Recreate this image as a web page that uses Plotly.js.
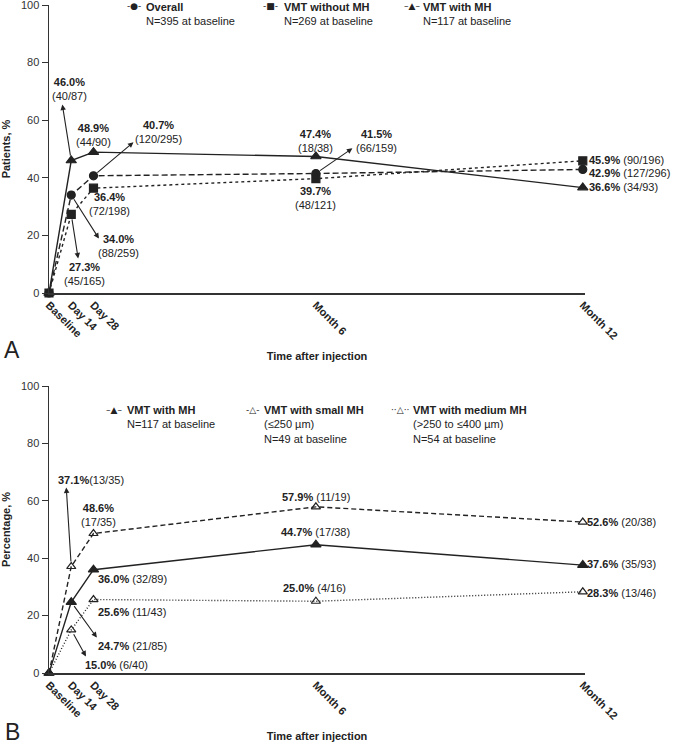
<!DOCTYPE html>
<html><head><meta charset="utf-8">
<script src="https://cdn.plot.ly/plotly-3.0.1.min.js"></script>
<style>html,body{margin:0;padding:0;background:#fff}</style>
</head><body><div id="chart" style="width:673px;height:744px"></div>
<script>
// ---------- DATA ----------
const timePoints = [0, 0.5, 1, 6, 12];           // months after injection
const tickLabels = ['Baseline', 'Day 14', 'Day 28', 'Month 6', 'Month 12'];

// Panel A
const seriesNamesA = ['Overall', 'VMT without MH', 'VMT with MH'];
const baselineNA = ['N=395 at baseline', 'N=269 at baseline', 'N=117 at baseline'];
const overallPct = [0, 34.0, 40.7, 41.5, 42.9];
const overallCounts = ['', '88/259', '120/295', '66/159', '127/296'];
const withoutMHPct = [0, 27.3, 36.4, 39.7, 45.9];
const withoutMHCounts = ['', '45/165', '72/198', '48/121', '90/196'];
const withMHPct = [0, 46.0, 48.9, 47.4, 36.6];
const withMHCounts = ['', '40/87', '44/90', '18/38', '34/93'];

// Panel B
const seriesNamesB = ['VMT with MH', 'VMT with small MH', 'VMT with medium MH'];
const baselineNB = ['N=117 at baseline', '(\u2264250 \u00b5m)<br>N=49 at baseline', '(>250 to \u2264400 \u00b5m)<br>N=54 at baseline'];
const mhBPct = [0, 24.7, 36.0, 44.7, 37.6];
const mhBCounts = ['', '21/85', '32/89', '17/38', '35/93'];
const smallPct = [0, 37.1, 48.6, 57.9, 52.6];
const smallCounts = ['', '13/35', '17/35', '11/19', '20/38'];
const mediumPct = [0, 15.0, 25.6, 25.0, 28.3];
const mediumCounts = ['', '6/40', '11/43', '4/16', '13/46'];

// ---------- GEOMETRY / STYLE ----------
const W = 673, H = 744;
const M = {l: 49, r: 88, t: 0, b: 71};
const PW = W - M.l - M.r, PH = H - M.t - M.b;
const pxX = p => (p - M.l) / PW;
const pxY = p => 1 - (p - M.t) / PH;
const INK = '#222';
const FONT = 'Liberation Sans, Arial, sans-serif';
const NARROW = 'Liberation Sans Narrow,Liberation Sans,Arial,sans-serif';

const pct = v => '<b><span style="font-family:' + NARROW + '">' + v.toFixed(1) + '%</span></b>';

const dataA = [
  {pct: overallPct, cnt: overallCounts, dash: '6px,3px', sym: 'circle', size: 8},
  {pct: withoutMHPct, cnt: withoutMHCounts, dash: '3px,3px', sym: 'square', size: 8},
  {pct: withMHPct, cnt: withMHCounts, dash: 'solid', sym: 'triangle-up', size: 9}
];
const dataB = [
  {pct: mhBPct, cnt: mhBCounts, dash: 'solid', sym: 'triangle-up', size: 9},
  {pct: smallPct, cnt: smallCounts, dash: '5px,3px', sym: 'triangle-up-open', size: 8},
  {pct: mediumPct, cnt: mediumCounts, dash: '1px,2px', sym: 'triangle-up-open', size: 8}
];

const traces = [];
function addTraces(set, names, xa, ya) {
  set.forEach((s, k) => traces.push({
    type: 'scatter', mode: 'lines+markers', x: timePoints, y: s.pct, name: names[k],
    xaxis: xa, yaxis: ya, cliponaxis: false, showlegend: false,
    line: {color: INK, width: 1.4, dash: s.dash},
    marker: {symbol: s.sym, size: s.size, color: INK, line: {color: INK, width: 1.2}}
  }));
}
addTraces(dataA, seriesNamesA, 'x', 'y');
addTraces(dataB, seriesNamesB, 'x2', 'y2');

// label placement (pixel offsets from each point)
const labA = [
  {s: 2, i: 1, dx: -2, dy: -71.5, mode: 'two', arrow: [-9, -56.5]},
  {s: 2, i: 2, dx: 0, dy: -17, mode: 'two'},
  {s: 0, i: 2, dx: 65.5, dy: -44, mode: 'two', arrow: [40.5, -34]},
  {s: 1, i: 2, dx: 16.5, dy: 16.3, mode: 'two'},
  {s: 0, i: 1, dx: 47, dy: 51.4, mode: 'two', arrow: [28, 44]},
  {s: 1, i: 1, dx: 13, dy: 60, mode: 'two', arrow: [7, 44.6]},
  {s: 2, i: 3, dx: 0, dy: -15.5, mode: 'two'},
  {s: 0, i: 3, dx: 61, dy: -32, mode: 'two', arrow: [37, -25.5]},
  {s: 1, i: 3, dx: 0, dy: 19.8, mode: 'two'},
  {s: 1, i: 4, dx: 5, dy: -1.2, mode: 'one', anchor: 'left'},
  {s: 0, i: 4, dx: 5, dy: 3.8, mode: 'one', anchor: 'left'},
  {s: 2, i: 4, dx: 5, dy: -0.6, mode: 'one', anchor: 'left'}
];
const labB = [
  {s: 1, i: 1, dx: 20, dy: -86.5, mode: 'tight', arrow: [-5, -79.5]},
  {s: 1, i: 2, dx: 5, dy: -19, mode: 'two'},
  {s: 0, i: 2, dx: 3.5, dy: 9.3, mode: 'one', anchor: 'left'},
  {s: 2, i: 2, dx: 3.5, dy: 12.5, mode: 'one', anchor: 'left'},
  {s: 0, i: 1, dx: 25.75, dy: 44, mode: 'one', anchor: 'left', arrow: [26, 36]},
  {s: 2, i: 1, dx: 13, dy: 35, mode: 'one', anchor: 'left', arrow: [15, 27]},
  {s: 1, i: 3, dx: 0, dy: -10, mode: 'one'},
  {s: 0, i: 3, dx: 0, dy: -12.7, mode: 'one'},
  {s: 2, i: 3, dx: -1.5, dy: -13.3, mode: 'one'},
  {s: 1, i: 4, dx: 3, dy: 0, mode: 'one', anchor: 'left'},
  {s: 0, i: 4, dx: 3, dy: -1, mode: 'one', anchor: 'left'},
  {s: 2, i: 4, dx: 3, dy: 1, mode: 'one', anchor: 'left'}
];

const annotations = [];
function addLabels(set, labs, xr, yr) {
  labs.forEach(L => {
    const s = set[L.s], xv = timePoints[L.i], yv = s.pct[L.i];
    const sep = L.mode === 'two' ? '<br>' : (L.mode === 'tight' ? '' : ' ');
    annotations.push({
      xref: xr, yref: yr, x: xv, y: yv, showarrow: false,
      text: pct(yv) + sep + '(' + s.cnt[L.i] + ')',
      xshift: L.dx, yshift: -L.dy, xanchor: L.anchor || 'center', yanchor: 'middle',
      font: {family: FONT, size: 11, color: INK}, borderpad: 0
    });
    if (L.arrow) annotations.push({
      xref: xr, yref: yr, x: xv, y: yv, text: '', showarrow: true,
      ax: L.arrow[0], ay: L.arrow[1], arrowside: 'start',
      arrowhead: 2, startarrowhead: 2, arrowsize: 1, startarrowsize: 1,
      arrowwidth: 1.1, arrowcolor: INK, standoff: 5, startstandoff: 0,
      font: {size: 1}, borderpad: 0
    });
  });
}
addLabels(dataA, labA, 'x', 'y');
addLabels(dataB, labB, 'x2', 'y2');

// custom legends
const legA = [{sym: '-\u25cf-', sx: 133.5, tx: 145}, {sym: '-\u25a0-', sx: 270, tx: 283}, {sym: '\u2013\u25b2\u2013', sx: 412.5, tx: 422}];
const legB = [{sym: '\u2013\u25b2\u2013', sx: 113.5, tx: 126}, {sym: '-\u25b3-', sx: 252.5, tx: 263}, {sym: '\u00b7\u00b7\u25b3\u00b7\u00b7', sx: 400, tx: 412}];
function addLegend(items, names, ns, yTop, ySym) {
  items.forEach((it, k) => {
    annotations.push({xref: 'paper', yref: 'paper', x: pxX(it.sx), y: pxY(ySym), text: it.sym,
      showarrow: false, xanchor: 'center', yanchor: 'middle', font: {family: 'DejaVu Sans', size: 9, color: INK}});
    annotations.push({xref: 'paper', yref: 'paper', x: pxX(it.tx), y: pxY(yTop), align: 'left',
      text: '<b>' + names[k] + '</b><br>' + ns[k], showarrow: false, xanchor: 'left', yanchor: 'top',
      font: {family: FONT, size: 11, color: INK}, borderpad: 0});
  });
}
addLegend(legA, seriesNamesA, baselineNA, -0.5, 6);
addLegend(legB, seriesNamesB, baselineNB, 403, 410);

annotations.push({xref: 'paper', yref: 'paper', x: pxX(12), y: pxY(350), text: 'A', showarrow: false,
  xanchor: 'center', yanchor: 'middle', font: {family: FONT, size: 23, color: INK}});
annotations.push({xref: 'paper', yref: 'paper', x: pxX(12), y: pxY(732), text: 'B', showarrow: false,
  xanchor: 'center', yanchor: 'middle', font: {family: FONT, size: 23, color: INK}});

const xBase = {
  range: [0, 12.05], tickvals: timePoints, ticktext: tickLabels, tickangle: 45,
  ticks: '', showgrid: false, zeroline: false, showline: true, linecolor: '#333', linewidth: 1.5,
  tickfont: {family: FONT, size: 11, color: INK, weight: 'bold'}, ticklabeloverflow: 'allow',
  title: {text: 'Time after injection', font: {family: FONT, size: 11, color: INK, weight: 'bold'}, standoff: 11},
  fixedrange: true
};
const yBase = {
  range: [0, 100], tickvals: [0, 20, 40, 60, 80, 100], ticks: 'outside', ticklen: 6, tickwidth: 1, tickcolor: '#333',
  showgrid: false, zeroline: false, showline: true, linecolor: '#333', linewidth: 1.5, ticklabeloverflow: 'allow',
  tickfont: {family: NARROW, size: 11, color: '#333'}, fixedrange: true
};

const layout = {
  width: W, height: H, margin: M, paper_bgcolor: '#fff', plot_bgcolor: '#fff', showlegend: false,
  xaxis: Object.assign({}, xBase, {anchor: 'y', domain: [0, 1]}),
  yaxis: Object.assign({}, yBase, {anchor: 'x', domain: [pxY(293), pxY(5)],
    title: {text: 'Patients, %', font: {family: FONT, size: 11, color: INK, weight: 'bold'}, standoff: 10}}),
  xaxis2: Object.assign({}, xBase, {anchor: 'y2', domain: [0, 1]}),
  yaxis2: Object.assign({}, yBase, {anchor: 'x2', domain: [0, pxY(386)],
    title: {text: 'Percentage, %', font: {family: FONT, size: 11, color: INK, weight: 'bold'}, standoff: 10}}),
  annotations: annotations
};

Plotly.newPlot('chart', traces, layout, {displayModeBar: false, staticPlot: true});
</script></body></html>
